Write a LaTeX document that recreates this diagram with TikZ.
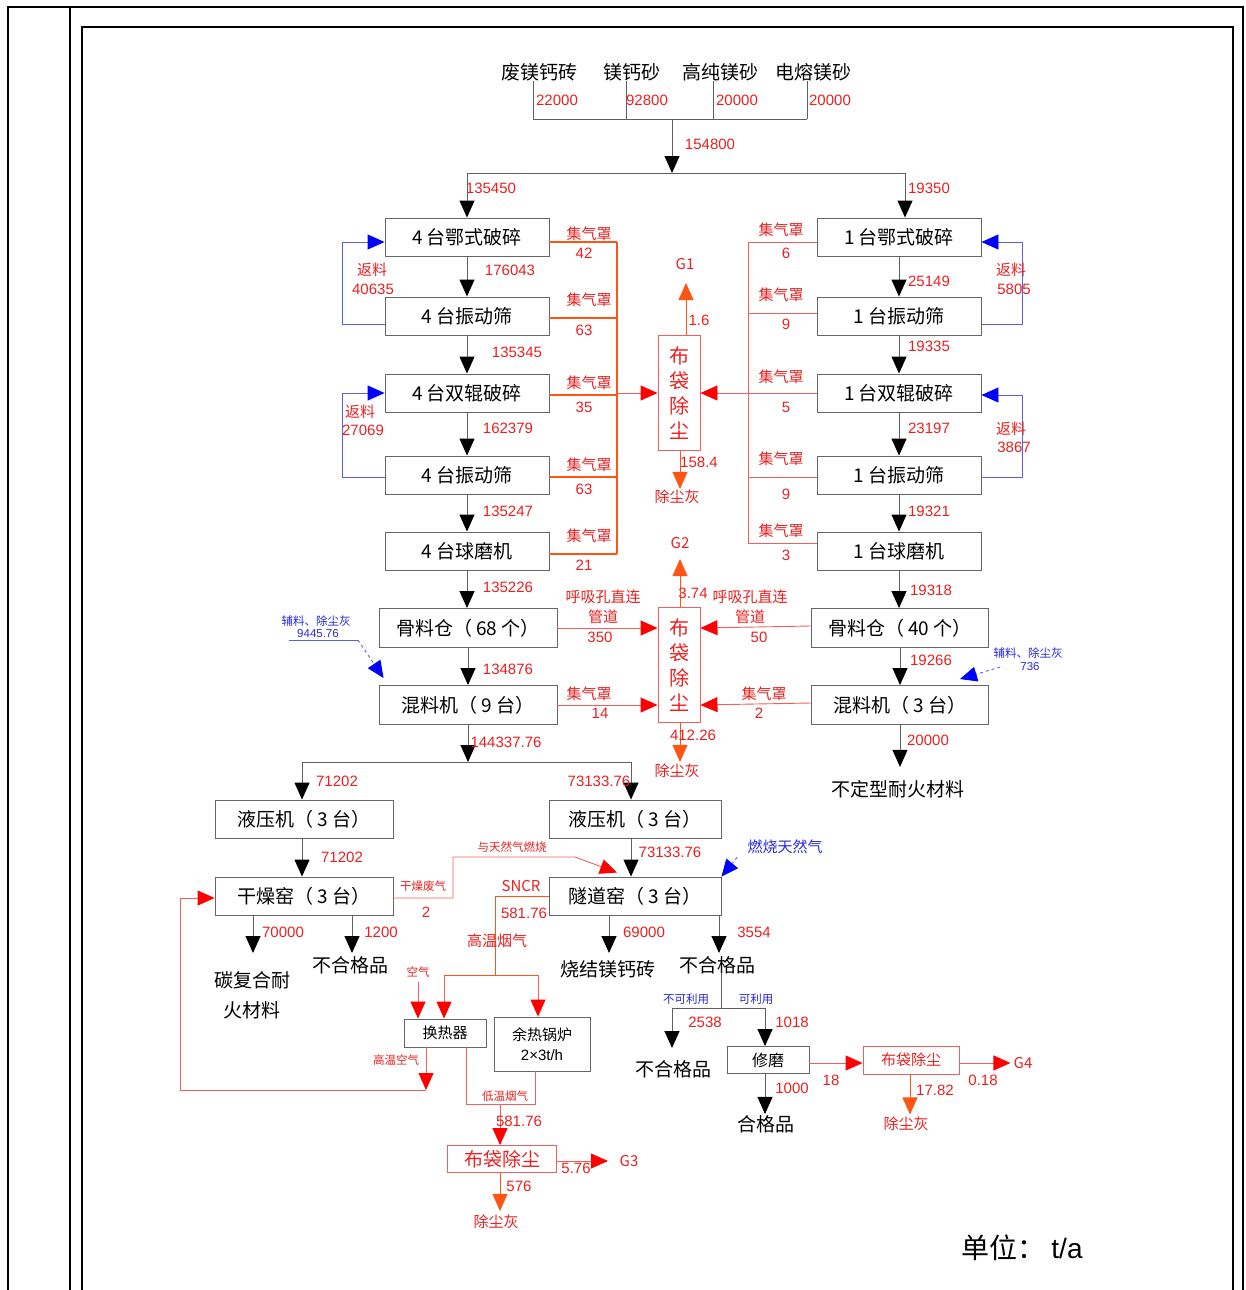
\documentclass[tikz,border=0pt]{standalone}
\usepackage{fontspec}
\setmainfont{Noto Sans CJK SC}
\newfontfamily\numfont{Liberation Sans}
\usetikzlibrary{arrows.meta}
\definecolor{lred}{RGB}{232,32,32}
\definecolor{oline}{RGB}{255,85,20}
\definecolor{pred}{RGB}{240,95,95}
\definecolor{bline}{RGB}{95,95,225}
\definecolor{gline}{RGB}{95,95,95}
\definecolor{bfont}{RGB}{40,40,220}

\tikzset{
  box/.style={draw=black!60,line width=0.9pt,minimum width=164pt,minimum height=38pt,inner sep=0pt,font=\fontsize{19}{21}\selectfont},
  bagbox/.style={draw=pred,line width=0.9pt,minimum width=42pt,minimum height=115pt,inner sep=0pt,text=lred,align=center,font=\fontsize{20}{25}\selectfont},
  num/.style={text=lred,inner sep=0pt,font=\numfont\fontsize{15}{17}\selectfont},
  tag/.style={text=lred,inner sep=0pt,font=\fontsize{15}{17}\selectfont},
  note/.style={inner sep=0pt,font=\fontsize{11.5}{13}\selectfont},
  txt/.style={inner sep=0pt,font=\fontsize{19}{30}\selectfont,align=center},
  garm/.style={draw=gline,line width=0.9pt},
  oarm/.style={draw=oline,line width=1.8pt},
  rarm/.style={draw=pred,line width=0.9pt},
  flow/.style={garm,-{Triangle[length=17pt,width=15pt,color=black]}},
  rflow/.style={rarm,-{Triangle[length=17pt,width=15pt,color=red]}},
  oflow/.style={draw=oline,line width=0.9pt,-{Triangle[length=17pt,width=15pt,color=oline]}},
  bflow/.style={draw=bline,line width=0.9pt,-{Triangle[length=17pt,width=15pt,color=blue]}},
  bdash/.style={bflow,dashed}
}

\begin{document}
\begin{tikzpicture}[x=1pt,y=-1pt]
\useasboundingbox (0,0) rectangle (1245,1290);
\draw[line width=1.6pt] (8,1290) -- (8,7) -- (1243,7) -- (1243,1290);
\draw[line width=1.2pt] (70,7) -- (70,1290);
\draw[line width=1.6pt] (82,1290) -- (82,27) -- (1233,27) -- (1233,1290);

% raw materials
\node[txt] (m1) at (539,72) {废镁钙砖};
\node[txt] (m2) at (632,72) {镁钙砂};
\node[txt] (m3) at (720,72) {高纯镁砂};
\node[txt] (m4) at (813,72) {电熔镁砂};
\coordinate (j1) at (533,119);
\coordinate (j2) at (626,119);
\coordinate (j3) at (713,119);
\coordinate (j4) at (807,119);
\coordinate (jm) at (672,119);
\coordinate (jc) at (672,173);
\coordinate (jl) at (467,173);
\coordinate (jr) at (905,173);
\foreach \m/\j in {m1/j1,m2/j2,m3/j3,m4/j4} \draw[garm] (\m.south -| \j) -- (\j);
\draw[garm] (j1) -- (j4);
\draw[flow] (jm) -- (jc);
\draw[garm] (jl) -- (jr);
\node[num] (n1) at (557,100) {22000};
\node[num] (n2) at (647,100) {92800};
\node[num] (n3) at (737,100) {20000};
\node[num] (n4) at (830,100) {20000};
\node[num] (n5) at (710,144) {154800};
\node[num] (n6) at (491,188) {135450};
\node[num] (n7) at (929,188) {19350};

% 4-line
\node[box] (jaw4) at (467,237) {4 台鄂式破碎};
\node[box] (scr4a) at (467,316) {4 台振动筛};
\node[box] (rol4) at (467,393) {4 台双辊破碎};
\node[box] (scr4b) at (467,475) {4 台振动筛};
\node[box] (mill4) at (467,551) {4 台球磨机};
\draw[flow] (jl) -- (jaw4);
\draw[flow] (jaw4) -- (scr4a);
\draw[flow] (scr4a) -- (rol4);
\draw[flow] (rol4) -- (scr4b);
\draw[flow] (scr4b) -- (mill4);
\node[num] at (510,270) {176043};
\node[num] at (517,352) {135345};
\node[num] at (508,428) {162379};
\node[num] at (508,511) {135247};
\node[num] at (508,587) {135226};
\draw[bflow] ([yshift=-8pt]scr4a.west) -- ++(-42,0) |- ([yshift=-5pt]jaw4.west);
\draw[bflow] ([yshift=-2pt]scr4b.west) -- ++(-42,0) |- (rol4.west);
\node[tag] at (372,270) {返料};
\node[num] at (373,289) {40635};
\node[tag] at (360,412) {返料};
\node[num] at (363,430) {27069};
\foreach \b/\d in {jaw4/5,scr4a/2,rol4/2,scr4b/2,mill4/3}
  \draw[oarm] ([yshift=-\d pt]\b.east) -- ++(68,0);
\draw[oarm] (617,242) -- (617,554);
\foreach \y/\yy/\v in {234/253/42,300/330/63,383/407/35,465/489/63,536/565/21} {
  \node[tag] at (589,\y) {集气罩};
  \node[num] at (584,\yy) {\v};
}

% 1-line
\node[box] (jaw1) at (899,237) {1 台鄂式破碎};
\node[box] (scr1a) at (899,316) {1 台振动筛};
\node[box] (rol1) at (899,393) {1 台双辊破碎};
\node[box] (scr1b) at (899,475) {1 台振动筛};
\node[box] (mill1) at (899,551) {1 台球磨机};
\draw[flow] (jr) -- (jaw1.north -| jr);
\draw[flow] (jaw1) -- (scr1a);
\draw[flow] (scr1a) -- (rol1);
\draw[flow] (rol1) -- (scr1b);
\draw[flow] (scr1b) -- (mill1);
\node[num] at (929,281) {25149};
\node[num] at (929,346) {19335};
\node[num] at (929,428) {23197};
\node[num] at (929,511) {19321};
\node[num] at (931,590) {19318};
\draw[bflow] ([yshift=-8pt]scr1a.east) -- ++(41,0) |- ([yshift=-5pt]jaw1.east);
\draw[bflow] ([yshift=-2pt]scr1b.east) -- ++(41,0) |- ([yshift=-2pt]rol1.east);
\node[tag] at (1011,270) {返料};
\node[num] at (1014,289) {5805};
\node[tag] at (1011,429) {返料};
\node[num] at (1014,447) {3867};
\foreach \b/\d in {jaw1/-5,scr1a/3,rol1/0,scr1b/-2,mill1/8}
  \draw[rarm] ([yshift=\d pt]\b.west) -- ++(-69,0);
\draw[rarm] (748,242) -- (748,543);
\foreach \y/\yy/\v in {230/253/6,295/324/9,377/407/5,459/494/9,531/555/3} {
  \node[tag] at (781,\y) {集气罩};
  \node[num] at (786,\yy) {\v};
}

% bag filter 1
\node[bagbox] (bag1) at (679,393) {布\\袋\\除\\尘};
\coordinate (cl) at (617,393);
\coordinate (cr) at (748,393);
\draw[rflow] (cl) -- (bag1.west);
\draw[rflow] (cr) -- (bag1.east);
\node[tag] (g1) at (685,264) {G1};
\node[tag] (ash1) at (677,497) {除尘灰};
\draw[oflow] ([xshift=7pt]bag1.north) -- ++(0,-52);
\draw[oflow] ([xshift=1pt]bag1.south) -- ++(0,38);
\node[num] at (699,320) {1.6};
\node[num] at (699,462) {158.4};

% silos and mixers
\node[box,minimum width=178pt,minimum height=39pt] (silo9) at (468,628) {骨料仓（ 68 个）};
\node[box,minimum width=178pt,minimum height=39pt] (mixer9) at (468,705) {混料机（ 9 台）};
\node[box,minimum width=177pt,minimum height=39pt] (silo3) at (900,628) {骨料仓（ 40 个）};
\node[box,minimum width=177pt,minimum height=39pt] (mixer3) at (900,705) {混料机（ 3 台）};
\draw[flow] (mill4) -- (mill4 |- silo9.north);
\draw[flow] (silo9) -- (mixer9);
\draw[flow] (mill1) -- (mill1 |- silo3.north);
\draw[flow] (silo3) -- (mixer3);
\node[num] at (508,669) {134876};
\node[num] at (931,660) {19266};

\node[bagbox] (bag2) at (679,665) {布\\袋\\除\\尘};
\draw[rflow] (silo9.east) -- (silo9.east -| bag2.west);
\draw[rflow] (mixer9.east) -- (mixer9.east -| bag2.west);
\draw[rflow] ([yshift=2pt]silo3.west) -- (silo3.west -| bag2.east);
\draw[rflow] ([yshift=2pt]mixer3.west) -- (mixer3.west -| bag2.east);
\node[tag] at (603,597) {呼吸孔直连};
\node[tag] at (603,617) {管道};
\node[num] at (600,637) {350};
\node[tag] at (589,694) {集气罩};
\node[num] at (600,713) {14};
\node[tag] at (750,597) {呼吸孔直连};
\node[tag] at (750,617) {管道};
\node[num] at (759,637) {50};
\node[tag] at (764,694) {集气罩};
\node[num] at (759,713) {2};
\node[tag] (g2) at (680,543) {G2};
\node[tag] (ash2) at (677,771) {除尘灰};
\draw[oflow] ([xshift=1pt]bag2.north) -- ++(0,-48);
\draw[oflow] ([xshift=1pt]bag2.south) -- ++(0,39);
\node[num] at (693,593) {3.74};
\node[num] at (693,735) {412.26};

% additives
\node[note,text=bfont] (aux9) at (316,621) {辅料、除尘灰};
\node[note,text=bfont,font=\numfont\fontsize{11.5}{13}\selectfont] (aux9v) at (318,634) {9445.76};
\coordinate (u1) at (289,640);
\coordinate (u2) at (358,640);
\draw[draw=bline,line width=0.9pt] (u1) -- (u2);
\draw[bdash] (u2) -- ([xshift=5pt,yshift=7pt]mixer9.north west);
\node[note,text=bfont] (aux3) at (1028,653) {辅料、除尘灰};
\node[note,text=bfont,font=\numfont\fontsize{11.5}{13}\selectfont] (aux3v) at (1030,667) {736};
\draw[bdash] ([xshift=-20pt]aux3v.west) -- ([xshift=-29pt,yshift=6pt]mixer3.north east);

% indefinite product
\node[txt] (fin) at (898,789) {不定型耐火材料};
\draw[flow] (mixer3.south) -- ++(0,42);
\node[num] at (928,740) {20000};

% split to presses
\coordinate (k) at (468,762);
\coordinate (kl) at (302,762);
\coordinate (kr) at (631,762);
\draw[flow] (mixer9) -- (k);
\draw[garm] (kl) -- (kr);
\node[num] at (506,742) {144337.76};
\node[box,minimum width=178pt] (pressA) at (304,819) {液压机（ 3 台）};
\node[box,minimum width=172pt] (pressB) at (635,819) {液压机（ 3 台）};
\node[box,minimum width=178pt] (dryer) at (304,896) {干燥窑（ 3 台）};
\node[box,minimum width=172pt] (kiln) at (635,896) {隧道窑（ 3 台）};
\draw[flow] (kl) -- (kl |- pressA.north);
\draw[flow] (kr) -- (kr |- pressB.north);
\draw[flow] (pressA.south -| kl) -- (dryer.north -| kl);
\draw[flow] (pressB.south -| kr) -- (kiln.north -| kr);
\node[num] at (337,781) {71202};
\node[num] at (599,781) {73133.76};
\node[num] at (342,857) {71202};
\node[num] at (670,852) {73133.76};

% dryer outputs
\node[txt] (carb) at (252,995) {碳复合耐\\火材料};
\node[txt] (rej1) at (350,965) {不合格品};
\coordinate (d1) at (253,953);
\coordinate (d2) at (352,953);
\draw[flow] (dryer.south -| d1) -- (d1);
\draw[flow] (dryer.south -| d2) -- (d2);
\node[num] at (283,932) {70000};
\node[num] at (381,932) {1200};

% kiln outputs
\node[txt] (brick) at (608,969) {烧结镁钙砖};
\node[txt] (rej2) at (717,965) {不合格品};
\coordinate (e1) at (609,953);
\coordinate (e2) at (719,953);
\draw[flow] (kiln.south -| e1) -- (e1);
\draw[flow] (kiln.south -| e2) -- (e2);
\node[num] at (644,932) {69000};
\node[num] at (754,932) {3554};

% drying exhaust and gas
\coordinate (xb) at (453,857);
\coordinate (xc) at (575,857);
\draw[rflow] ([yshift=-2pt]dryer.east) -| (xb) -- (xc) -- ([xshift=-18pt,yshift=4pt]kiln.north);
\node[note,text=lred] at (423,886) {干燥废气};
\node[num] at (426,912) {2};
\node[note,text=lred] at (512,847) {与天然气燃烧};
\node[tag,text=bfont] (gas) at (785,847) {燃烧天然气};
\draw[bdash] ([xshift=-10pt,yshift=-3pt]gas.south west) -- (kiln.north east);

% flue gas
\coordinate (sa) at (495,896);
\coordinate (sb) at (495,975);
\coordinate (sl) at (444,975);
\coordinate (sr) at (538,975);
\draw[draw=oline,line width=0.9pt] (kiln.west) -- (sa) -- (sb);
\draw[draw=oline,line width=0.9pt] (sl) -- (sr);
\node[tag] at (521,886) {SNCR};
\node[num] at (524,913) {581.76};
\node[tag] at (497,941) {高温烟气};
\node[box,minimum width=82pt,minimum height=28pt,font=\fontsize{15}{17}\selectfont] (hx) at (445,1033) {换热器};
\node[box,minimum width=96pt,minimum height=54pt,align=center,font=\fontsize{15}{20}\selectfont] (boiler) at (542,1044) {余热锅炉\\{\numfont 2×3t/h}};
\draw[rflow] (sl) -- (hx.north -| sl);
\draw[rflow] (sr) -- (boiler.north -| sr);
\node[note,text=lred] (air) at (418,972) {空气};
\draw[rflow] (air.south) ++(0,4) -- (hx.north -| air);

\coordinate (ha) at (426,1090);
\coordinate (hb) at (180,1090);
\draw[rflow] (hx.south -| ha) -- (ha);
\draw[rflow] (ha) -- (hb) |- ([yshift=-2pt]dryer.west);
\node[note,text=lred] at (396,1060) {高温空气};

\coordinate (la) at (466,1104);
\coordinate (lb) at (535,1104);
\coordinate (lc) at (500,1104);
\draw[rarm] (hx.south -| la) -- (la) -- (lb) -- (boiler.south -| lb);
\node[note,text=lred] at (505,1096) {低温烟气};
\node[box,draw=pred,text=lred,minimum width=109pt,minimum height=27pt,font=\fontsize{19}{21}\selectfont] (bag3) at (502,1159) {布袋除尘};
\draw[rflow] (lc) -- (bag3.north -| lc);
\node[num] at (519,1121) {581.76};
\draw[rflow] ([yshift=-2pt]bag3.east) -- ++(51,0);
\node[tag] (g3) at (629,1161) {G3};
\node[num] at (576,1168) {5.76};
\draw[oflow] ([xshift=-2pt]bag3.south) -- ++(0,38);
\node[num] at (519,1186) {576};
\node[tag] (ash3) at (496,1222) {除尘灰};

% rejects sorting
\coordinate (r0) at (721,1008);
\coordinate (rl) at (672,1008);
\coordinate (rr) at (765,1008);
\draw[garm] (rej2.south -| r0) -- (r0);
\draw[garm] (rl) -- (rr);
\node[note,text=bfont] at (686,999) {不可利用};
\node[note,text=bfont] at (756,999) {可利用};
\node[box,minimum width=82pt,minimum height=27pt,font=\fontsize{16}{18}\selectfont] (grind) at (768,1060) {修磨};
\draw[flow] (rl) -- ++(0,40);
\draw[flow] (rr) -- (rr |- grind.north);
\node[txt] (rej3) at (673,1069) {不合格品};
\node[num] at (705,1022) {2538};
\node[num] at (792,1022) {1018};
\draw[flow] (grind.south -| rr) -- ++(0,40);
\node[txt] (good) at (766,1124) {合格品};
\node[num] at (792,1088) {1000};
\node[box,draw=pred,text=lred,minimum width=96pt,minimum height=28pt,font=\fontsize{15}{17}\selectfont] (bag4) at (911,1060) {布袋除尘};
\draw[rflow] ([yshift=-3pt]grind.east) -- ([yshift=-3pt]bag4.west);
\node[num] at (831,1080) {18};
\draw[rflow] ([yshift=-3pt]bag4.east) -- ++(51,0);
\node[tag] (g4) at (1023,1063) {G4};
\node[num] at (983,1080) {0.18};
\draw[oflow] ([xshift=-1pt]bag4.south) -- ++(0,40);
\node[num] at (935,1090) {17.82};
\node[tag] (ash4) at (906,1124) {除尘灰};

\node[inner sep=0pt,font=\fontsize{28}{30}\selectfont] (unit) at (1022,1248) {单位：\hspace{6pt}{\numfont t/a}};
\end{tikzpicture}
\end{document}
